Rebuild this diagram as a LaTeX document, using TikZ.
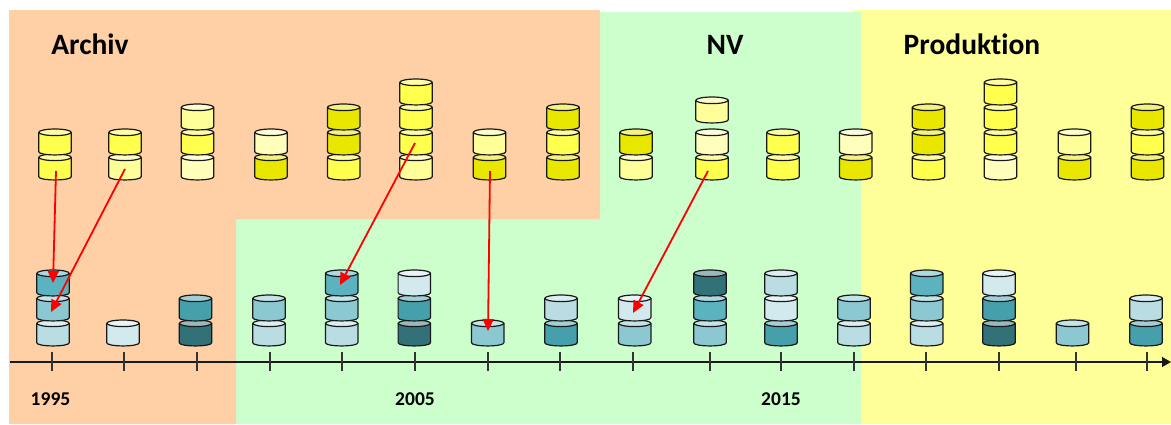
\documentclass[tikz,border=0pt]{standalone}
\usepackage{fontspec}
\setmainfont[Ligatures=NoCommon]{Carlito}
\usetikzlibrary{arrows.meta}
\definecolor{bgorange}{HTML}{FFCFA5}
\definecolor{bggreen}{HTML}{CCFFCC}
\definecolor{bgyellow}{HTML}{FFFF99}
\definecolor{Ya}{HTML}{FFFFBB}
\definecolor{Yb}{HTML}{FFFF99}
\definecolor{Yc}{HTML}{FFFF4D}
\definecolor{Yd}{HTML}{E9E600}
\definecolor{Ta}{HTML}{D2EAEE}
\definecolor{Tb}{HTML}{B9DDE3}
\definecolor{Tc}{HTML}{8CC8D2}
\definecolor{Td}{HTML}{5AB3BE}
\definecolor{Te}{HTML}{46A0AB}
\definecolor{Tf}{HTML}{337179}
\tikzset{
  cylline/.style={draw=black!90,line width=1.2pt,line join=round},
  title/.style={anchor=base,font=\fontsize{29.5}{30}\selectfont\bfseries,inner sep=0pt},
  yearlabel/.style={anchor=base,font=\fontsize{19.5}{20}\selectfont\bfseries,inner sep=0pt},
  moved/.style={draw=red,line width=1.8pt,-{Triangle[length=12pt,width=11pt]},shorten >=0pt},
  axisline/.style={draw=black!90,line width=1.5pt,-{Triangle[length=9pt,width=10pt]}},
  tickline/.style={draw=black!80,line width=1.1pt}
}
% one drum: name, centre x, top y, colour
\newcommand{\drum}[4]{%
  \begin{scope}[shift={(#2,#3)}]
    \path[cylline,fill=#4] (-16.2,3.3) -- (-16.2,22.7) .. controls (-16.2,27) and (16.2,27) .. (16.2,22.7) -- (16.2,3.3) -- cycle;
    \path[cylline,fill=#4!50!white] (0,3.3) ellipse [x radius=16.2pt,y radius=3.3pt];
    \coordinate (#1) at (0,13);
  \end{scope}}
% a stack of drums listed from the bottom: name, x, top y of the lowest, colours
\newcommand{\drumstack}[4]{%
  \foreach \c [count=\i] in {#4} {%
    \pgfmathsetmacro{\yy}{#3-25*(\i-1)}%
    \drum{#1\i}{#2}{\yy}{\c}%
  }}
\begin{document}
\begin{tikzpicture}[x=1pt,y=-1pt]
\useasboundingbox (0,0) rectangle (1171,424);
\fill[white] (0,0) rectangle (1171,424);
% phases
\fill[bgyellow] (853,10) -- (1171,10) -- (1171,424) -- (861,424) -- (861,12) -- (853,12) -- cycle;
\fill[bggreen] (600,12) -- (861,12) -- (861,424) -- (236,424) -- (236,219) -- (600,219) -- cycle;
\fill[bgorange] (9,10) -- (600,10) -- (600,219) -- (236,219) -- (236,424) -- (9,424) -- cycle;
\node[title] (archiv) at (90,54) {Archiv};
\node[title] (nv) at (725,54) {NV};
\node[title] (produktion) at (972,54) {Produktion};
% upper row
\drumstack{ta}{55}{154}{Yc,Yc}
\drumstack{tb}{125}{154}{Yb,Yc}
\drumstack{tc}{197.5}{154}{Ya,Yc,Yb}
\drumstack{td}{271}{154}{Yd,Ya}
\drumstack{te}{343.7}{154}{Yc,Yd,Yd}
\drumstack{tf}{416}{154}{Yb,Yc,Yc,Yc}
\drumstack{tg}{489.5}{154}{Yd,Yb}
\drumstack{th}{563}{154}{Yd,Yc,Yd}
\drumstack{ti}{636}{154}{Yb,Yd}
\drumstack{tj}{712}{154}{Yc,Ya}
\drum{tjtop}{712}{97}{Yb}
\drumstack{tk}{783}{154}{Yc,Yc}
\drumstack{tl}{855.7}{154}{Yd,Ya}
\drumstack{tm}{928.5}{154}{Yc,Yd,Yd}
\drumstack{tn}{1000.5}{154}{Ya,Yc,Yc,Yc}
\drumstack{to}{1074.5}{154}{Yd,Yb}
\drumstack{tp}{1147.5}{154}{Yd,Yc,Yd}
% lower row
\drumstack{ba}{53}{320}{Tb,Tc,Td}
\drumstack{bb}{123}{320}{Ta}
\drumstack{bc}{195.5}{320}{Tf,Te}
\drumstack{bd}{269}{320}{Tb,Tc}
\drumstack{be}{341.7}{320}{Tb,Tc,Td}
\drumstack{bf}{414.3}{320}{Tf,Te,Ta}
\drumstack{bg}{487.7}{320}{Tc}
\drumstack{bh}{561}{320}{Te,Tb}
\drumstack{bi}{634.7}{320}{Tc,Ta}
\drumstack{bj}{710}{320}{Tc,Td,Tf}
\drumstack{bk}{781}{320}{Te,Ta,Tb}
\drumstack{bl}{854}{320}{Tb,Tc}
\drumstack{bm}{926.7}{320}{Tb,Tc,Td}
\drumstack{bn}{999}{320}{Tf,Te,Ta}
\drumstack{bo}{1072.5}{320}{Tc}
\drumstack{bp}{1146}{320}{Te,Tb}
% time axis
\coordinate (axisstart) at (10,362);
\coordinate (axisend) at (1171,362);
\draw[axisline] (axisstart) -- (axisend);
\foreach \t in {52,124,197,270,342,415,488,560,633,710,781,854,926,999,1076,1147}
  \draw[tickline] (\t,352) -- (\t,371);
\node[yearlabel] (y1995) at (50.5,405) {1995};
\node[yearlabel] (y2005) at (415,405) {2005};
\node[yearlabel] (y2015) at (781,405) {2015};
% migrations
\draw[moved] ([shift={(1,4)}]ta1) -- (ba3);
\draw[moved] ([shift={(0,2)}]tb1) -- ([shift={(-2,4)}]ba2);
\draw[moved] ([shift={(-1,1)}]tf2) -- ([shift={(-1.7,2)}]be3);
\draw[moved] ([shift={(0.5,4)}]tg1) -- ([shift={(0.3,-2)}]bg1);
\draw[moved] ([shift={(-4,4)}]tj1) -- ([shift={(-1.7,5)}]bi2);
\end{tikzpicture}
\end{document}
